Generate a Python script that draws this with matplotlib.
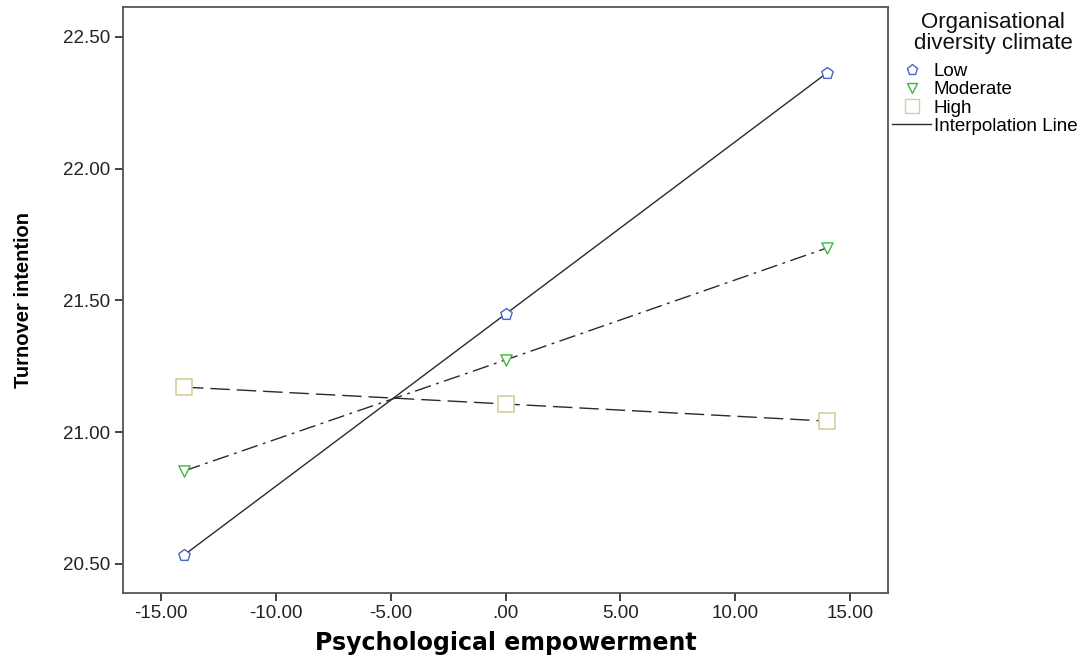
import matplotlib
matplotlib.use("Agg")
import matplotlib.pyplot as plt
from matplotlib.lines import Line2D

plt.rcParams['font.family'] = ['Liberation Sans', 'DejaVu Sans']

x_vals = [-14.0, 0.0, 14.0]
low = [20.534, 21.448, 22.363]
moderate = [20.853, 21.274, 21.699]
high = [21.171, 21.107, 21.042]
group_labels = ['Low', 'Moderate', 'High']
legend_title = 'Organisational\ndiversity climate'
xticks = [-15, -10, -5, 0, 5, 10, 15]
xtick_labels = ['-15.00', '-10.00', '-5.00', '.00', '5.00', '10.00', '15.00']
yticks = [20.5, 21.0, 21.5, 22.0, 22.5]
ytick_labels = ['20.50', '21.00', '21.50', '22.00', '22.50']

fig = plt.figure(figsize=(10.92, 6.58), dpi=100)
ax = fig.add_axes([0.1124, 0.0992, 0.7011, 0.8906])

line_col = '#2a2a2a'
ax.plot(x_vals, low, color=line_col, lw=1.0, ls='-', zorder=2)
ax.plot(x_vals, moderate, color=line_col, lw=1.0, ls=(0, (12, 4, 2, 4)), zorder=2)
ax.plot(x_vals, high, color=line_col, lw=1.0, ls=(0, (14, 5)), zorder=2)

ax.scatter(x_vals, low, marker='p', s=75, facecolors='white', edgecolors='#4a66c4', linewidths=1.0, zorder=3)
ax.scatter(x_vals, moderate, marker='v', s=65, facecolors='white', edgecolors='#3cb83c', linewidths=1.0, zorder=3)
ax.scatter(x_vals, high, marker='s', s=120, facecolors='white', edgecolors='#d6cf9a', linewidths=1.2, zorder=3)

ax.set_xlim(-16.67, 16.67)
ax.set_ylim(20.391, 22.614)
ax.set_xticks(xticks)
ax.set_xticklabels(xtick_labels)
ax.set_yticks(yticks)
ax.set_yticklabels(ytick_labels)
ax.tick_params(axis='both', labelsize=13.5, length=6, width=1.3, color='#333333', labelcolor='#222222', pad=3)
for sp in ax.spines.values():
    sp.set_color('#555555')
    sp.set_linewidth(1.3)

ax.set_xlabel('Psychological empowerment', fontsize=17, fontweight='bold',
              family=['DejaVu Sans'], va='center', ha='center')
ax.xaxis.set_label_coords(0.5, -0.0858)
ax.set_ylabel('Turnover intention', fontsize=14.5, fontweight='bold', rotation=90, va='center', ha='center')
ax.yaxis.set_label_coords(-0.130, 0.4995)

# legend title as figure text
fig.text(993 / 1092, 1 - 33 / 658, legend_title, fontsize=16, ha='center', va='center',
         multialignment='center', linespacing=1.05, color='#111111')

handles = [
    Line2D([], [], ls='none', marker='p', markersize=8, markerfacecolor='white', markeredgecolor='#4a66c4'),
    Line2D([], [], ls='none', marker='v', markersize=7, markerfacecolor='white', markeredgecolor='#3cb83c'),
    Line2D([], [], ls='none', marker='s', markersize=10, markerfacecolor='white', markeredgecolor='#d6cf9a'),
    Line2D([], [], color=line_col, lw=1.0),
]
leg = fig.legend(handles, group_labels + ['Interpolation Line'],
                 loc='upper left', bbox_to_anchor=(892 / 1092, 1 - 63 / 658),
                 frameon=False, fontsize=13.5, handlelength=2.1, handletextpad=0.12,
                 labelspacing=0.06, borderaxespad=0, borderpad=0)

fig.savefig('out.png', dpi=100)
